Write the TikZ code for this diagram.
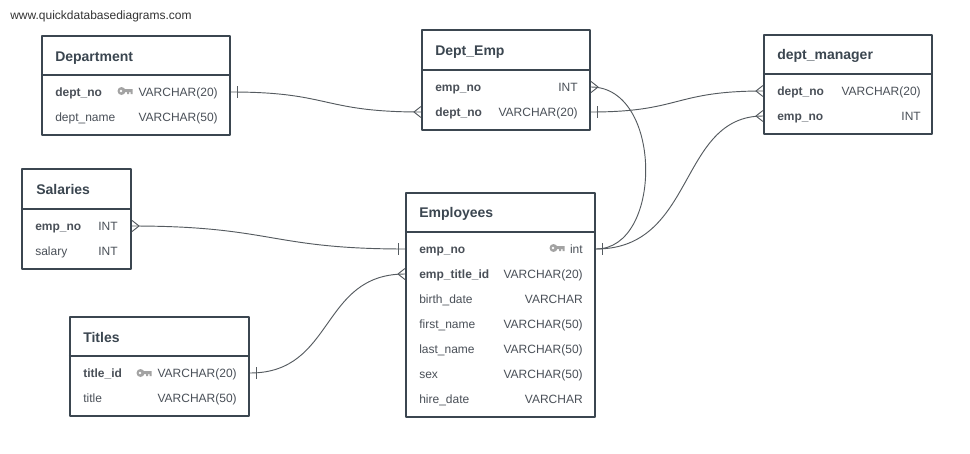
\documentclass[tikz,border=0pt]{standalone}
\usepackage{fontspec}
\setmainfont{Liberation Sans}
\usetikzlibrary{calc}

\definecolor{boxline}{HTML}{3B4650}
\definecolor{wireline}{HTML}{555B60}
\definecolor{rowtext}{HTML}{4A5058}
\definecolor{keygray}{HTML}{A3A3A3}

\def\px{0.75pt}

% one-side and many-side ends of a relation
\newcommand{\oneright}[1]{\draw[wire] ($(#1)+(6,-6)$) -- ($(#1)+(6,6)$);}
\newcommand{\oneleft}[1]{\draw[wire] ($(#1)+(-6,-6)$) -- ($(#1)+(-6,6)$);}
\newcommand{\manyright}[1]{\draw[wire] ($(#1)+(0,-5.5)$) -- ($(#1)+(7,0)$) -- ($(#1)+(0,5.5)$);}
\newcommand{\manyleft}[1]{\draw[wire] ($(#1)+(0,-5.5)$) -- ($(#1)+(-7,0)$) -- ($(#1)+(0,5.5)$);}

\begin{document}
\begin{tikzpicture}[x=0.75pt,y=-0.75pt,line join=round]
  \tikzstyle{tablebox}=[draw=boxline,line width=1.6pt,fill=white,inner sep=0pt]
  \tikzstyle{headline}=[draw=boxline,line width=1.6pt]
  \tikzstyle{tabletitle}=[anchor=west,inner sep=0pt,text height=10pt,text depth=1.5pt,font=\fontsize{10.5}{12}\selectfont\bfseries,text=boxline]
  \tikzstyle{keyname}=[anchor=west,inner sep=0pt,text height=8.5pt,text depth=2pt,font=\fontsize{9}{11}\selectfont\bfseries,text=rowtext]
  \tikzstyle{rowname}=[anchor=west,inner sep=0pt,text height=8.5pt,text depth=2pt,font=\fontsize{9}{11}\selectfont,text=rowtext]
  \tikzstyle{rowtype}=[anchor=east,inner sep=0pt,text height=8.5pt,text depth=2pt,font=\fontsize{9}{11}\selectfont,text=rowtext]
  \tikzstyle{wire}=[draw=wireline,line width=0.7pt]
  \tikzset{keyicon/.pic={
    \fill[keygray] (-3.5,0) circle (4);
    \fill[white] (-4,0) circle (1.3);
    \fill[keygray] (-1,-1.8) -- (7.5,-1.8) -- (7.5,3) -- (5.7,3) -- (5.7,1.2) -- (4,1.2) -- (4,3) -- (2.2,3) -- (2.2,1.2) -- (-1,1.2) -- cycle;
  }}

  \useasboundingbox (0,0) rectangle (970,453);
  \fill[white] (0,0) rectangle (970,453);

  \node[anchor=west,inner sep=0pt,text height=7pt,text depth=2pt,font=\fontsize{9}{11}\selectfont,text=black!80] (site) at (10,16) {www.quickdatabasediagrams.com};

  % tables
  \node[tablebox,minimum width=188*\px,minimum height=99*\px] (Department) at (136,85.5) {};
  \draw[headline] (Department.west |- 0,75) -- (Department.east |- 0,75);
  \node[tabletitle] (DepartmentTitle) at (55,56) {Department};
  \node[keyname] (DepartmentNo) at (55,92) {dept\_no};
  \node[rowtype] (DepartmentNoType) at (218,92) {VARCHAR(20)};
  \node[rowname] (DepartmentName) at (55,117) {dept\_name};
  \node[rowtype] (DepartmentNameType) at (218,117) {VARCHAR(50)};
  \pic at (125,91) {keyicon};

  \node[tablebox,minimum width=168*\px,minimum height=100*\px] (DeptEmp) at (506,80) {};
  \draw[headline] (DeptEmp.west |- 0,70) -- (DeptEmp.east |- 0,70);
  \node[tabletitle] (DeptEmpTitle) at (435,50) {Dept\_Emp};
  \node[keyname] (DeptEmpEmp) at (435,87) {emp\_no};
  \node[rowtype] (DeptEmpEmpType) at (578,87) {INT};
  \node[keyname] (DeptEmpDept) at (435,112) {dept\_no};
  \node[rowtype] (DeptEmpDeptType) at (578,112) {VARCHAR(20)};

  \node[tablebox,minimum width=168*\px,minimum height=99*\px] (DeptManager) at (848,84.5) {};
  \draw[headline] (DeptManager.west |- 0,74) -- (DeptManager.east |- 0,74);
  \node[tabletitle] (DeptManagerTitle) at (777,54) {dept\_manager};
  \node[keyname] (DeptManagerDept) at (777,91) {dept\_no};
  \node[rowtype] (DeptManagerDeptType) at (921,91) {VARCHAR(20)};
  \node[keyname] (DeptManagerEmp) at (777,116) {emp\_no};
  \node[rowtype] (DeptManagerEmpType) at (921,116) {INT};

  \node[tablebox,minimum width=109*\px,minimum height=100*\px] (Salaries) at (76.5,219) {};
  \draw[headline] (Salaries.west |- 0,209) -- (Salaries.east |- 0,209);
  \node[tabletitle] (SalariesTitle) at (36,189) {Salaries};
  \node[keyname] (SalariesEmp) at (35,226) {emp\_no};
  \node[rowtype] (SalariesEmpType) at (118,226) {INT};
  \node[rowname] (SalariesPay) at (35,251) {salary};
  \node[rowtype] (SalariesPayType) at (118,251) {INT};

  \node[tablebox,minimum width=189*\px,minimum height=224*\px] (Employees) at (500.5,305) {};
  \draw[headline] (Employees.west |- 0,232) -- (Employees.east |- 0,232);
  \node[tabletitle] (EmployeesTitle) at (419,212) {Employees};
  \node[keyname] (EmployeesEmp) at (419,249) {emp\_no};
  \node[rowtype] (EmployeesEmpType) at (583,249) {int};
  \node[keyname] (EmployeesTitleId) at (419,274) {emp\_title\_id};
  \node[rowtype] (EmployeesTitleIdType) at (583,274) {VARCHAR(20)};
  \foreach \rowid/\rowy/\rowlabel/\rowkind in {Birth/299/birth\_date/VARCHAR,
      First/324/first\_name/VARCHAR(50),Last/349/last\_name/VARCHAR(50),
      Sex/374/sex/VARCHAR(50),Hire/399/hire\_date/VARCHAR} {
    \node[rowname] (Employees\rowid) at (419,\rowy) {\rowlabel};
    \node[rowtype] (Employees\rowid Type) at (583,\rowy) {\rowkind};
  }
  \pic at (557,248) {keyicon};

  \node[tablebox,minimum width=179*\px,minimum height=99*\px] (Titles) at (159.5,366.5) {};
  \draw[headline] (Titles.west |- 0,356) -- (Titles.east |- 0,356);
  \node[tabletitle] (TitlesTitle) at (83,337) {Titles};
  \node[keyname] (TitlesId) at (83,373) {title\_id};
  \node[rowtype] (TitlesIdType) at (237,373) {VARCHAR(20)};
  \node[rowname] (TitlesName) at (83,398) {title};
  \node[rowtype] (TitlesNameType) at (237,398) {VARCHAR(50)};
  \pic at (144,373) {keyicon};

  % relations
  \draw[wire] (Department.east |- DepartmentNo) .. controls +(100,0) and +(-100,0) .. (DeptEmp.west |- DeptEmpDept);
  \draw[wire] (DeptEmp.east |- DeptEmpEmp) .. controls +(72,0) and +(67,0) .. (Employees.east |- EmployeesEmp);
  \draw[wire] (DeptEmp.east |- DeptEmpDept) .. controls +(90,0) and +(-90,0) .. (DeptManager.west |- DeptManagerDept);
  \draw[wire] (Employees.east |- EmployeesEmp) .. controls +(100,0) and +(-85,0) .. (DeptManager.west |- DeptManagerEmp);
  \draw[wire] (Salaries.east |- SalariesEmp) .. controls +(140,0) and +(-135,0) .. (Employees.west |- EmployeesEmp);
  \draw[wire] (Titles.east |- TitlesId) .. controls +(85,0) and +(-85,0) .. (Employees.west |- EmployeesTitleId);

  \oneright{Department.east |- DepartmentNo}
  \manyleft{DeptEmp.west |- DeptEmpDept}
  \manyright{DeptEmp.east |- DeptEmpEmp}
  \oneright{Employees.east |- EmployeesEmp}
  \oneright{DeptEmp.east |- DeptEmpDept}
  \manyleft{DeptManager.west |- DeptManagerDept}
  \manyleft{DeptManager.west |- DeptManagerEmp}
  \manyright{Salaries.east |- SalariesEmp}
  \oneleft{Employees.west |- EmployeesEmp}
  \oneright{Titles.east |- TitlesId}
  \manyleft{Employees.west |- EmployeesTitleId}
\end{tikzpicture}
\end{document}
